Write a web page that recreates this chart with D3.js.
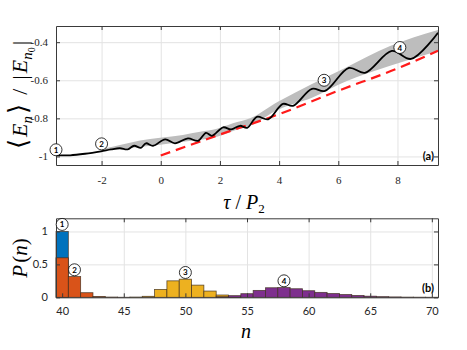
<!DOCTYPE html>
<html>
<head>
<meta charset="utf-8">
<script src="https://d3js.org/d3.v7.min.js"></script>
<style>
  body { margin: 0; background: #fff; }
  svg { display: block; }
  .grid line { stroke: #e3e3e3; stroke-width: 1; }
  .grid path { display: none; }
  .ax path, .ax line { stroke: #3a3a3a; }
  .ax text { fill: #262626; }
</style>
</head>
<body>
<script>
// panel (a): mean energy vs tau
var lineTau = [-3.54, -3.06, -2.56, -2.02, -1.68, -1.38, -1.12, -0.90, -0.67, -0.50, -0.26, 0.15, 0.48, 0.92, 1.26, 1.53, 1.73, 2.11, 2.38, 2.68, 2.92, 3.25, 3.63, 4.13, 4.47, 5.11, 5.55, 6.36, 6.90, 7.81, 8.46, 9.37];
var lineE   = [-0.994, -0.994, -0.986, -0.973, -0.963, -0.957, -0.963, -0.944, -0.955, -0.931, -0.944, -0.910, -0.931, -0.905, -0.918, -0.876, -0.892, -0.847, -0.858, -0.839, -0.850, -0.792, -0.805, -0.724, -0.734, -0.645, -0.656, -0.535, -0.561, -0.446, -0.488, -0.350];

var bandTau   = [-1.88, -1.38, -0.70, -0.02, 0.75, 1.33, 1.90, 2.44, 3.02, 3.96, 5.11, 6.23, 7.75, 9.37];
var bandUpper = [-0.957, -0.940, -0.916, -0.902, -0.887, -0.871, -0.855, -0.826, -0.800, -0.713, -0.619, -0.535, -0.420, -0.336];
var bandLower = [-0.965, -0.960, -0.950, -0.939, -0.923, -0.913, -0.897, -0.866, -0.839, -0.755, -0.692, -0.608, -0.524, -0.446];

var redTau = [0, 2, 4, 6, 8, 9.37];
var redE   = [-0.995, -0.885, -0.778, -0.655, -0.538, -0.445];

var markTau = [-3.54, -2.0, 5.52, 8.08];
var markE   = [-0.965, -0.934, -0.60, -0.428];
var markText = ["1", "2", "3", "4"];

var tauTicks = [-2, 0, 2, 4, 6, 8];
var eTicks = [-1, -0.8, -0.6, -0.4];

// panel (b): distributions P(n)
var blueN = [40];
var blueP = [1.0];
var orangeN = [40, 41, 42, 43, 44, 45];
var orangeP = [0.6, 0.315, 0.07, 0.012, 0.004, 0.001];
var yellowN = [46, 47, 48, 49, 50, 51, 52, 53, 54];
var yellowP = [0.004, 0.015, 0.12, 0.25, 0.275, 0.185, 0.095, 0.035, 0.008];
var purpleN = [53, 54, 55, 56, 57, 58, 59, 60, 61, 62, 63, 64, 65, 66, 67, 68, 69, 70];
var purpleP = [0.008, 0.025, 0.055, 0.105, 0.145, 0.148, 0.13, 0.1, 0.075, 0.057, 0.042, 0.028, 0.017, 0.01, 0.006, 0.003, 0.002, 0.001];

var histMarkN = [40, 41, 50, 58];
var histMarkP = [1.107, 0.418, 0.377, 0.25];

var nTicks = [40, 45, 50, 55, 60, 65, 70];
var pTicks = [0, 0.5, 1];

var w = 467, h = 350;
var left = 56, right = 438;
var topA = 26, botA = 165;
var topB = 218.3, botB = 297.3;

var svg = d3.select("body").append("svg").attr("width", w).attr("height", h);

var serif = "'Liberation Serif', 'DejaVu Serif', serif";
var sans = "Lato, 'DejaVu Sans', sans-serif";

// ---------- panel a ----------
var x = d3.scaleLinear().domain([-3.54, 9.37]).range([left, right]);
var y = d3.scaleLinear().domain([-1.045, -0.315]).range([botA, topA]);

svg.append("g").attr("class", "grid")
   .attr("transform", "translate(0," + botA + ")")
   .call(d3.axisBottom(x).tickValues(tauTicks).tickSize(-(botA - topA)).tickFormat(""));
svg.append("g").attr("class", "grid")
   .attr("transform", "translate(" + left + ",0)")
   .call(d3.axisLeft(y).tickValues(eTicks).tickSize(-(right - left)).tickFormat(""));

var band = d3.range(bandTau.length);
svg.append("path")
   .datum(band)
   .attr("fill", "#bdbdbd")
   .attr("d", d3.area()
      .x(function (i) { return x(bandTau[i]); })
      .y0(function (i) { return y(bandLower[i]); })
      .y1(function (i) { return y(bandUpper[i]); })
      .curve(d3.curveMonotoneX));

svg.append("path")
   .datum(d3.range(redTau.length))
   .attr("fill", "none")
   .attr("stroke", "#ff1a1a")
   .attr("stroke-width", 2.2)
   .attr("stroke-dasharray", "10,6")
   .attr("d", d3.line()
      .x(function (i) { return x(redTau[i]); })
      .y(function (i) { return y(redE[i]); })
      .curve(d3.curveMonotoneX));

svg.append("path")
   .datum(d3.range(lineTau.length))
   .attr("fill", "none")
   .attr("stroke", "#000")
   .attr("stroke-width", 1.8)
   .attr("stroke-linejoin", "round")
   .attr("d", d3.line()
      .x(function (i) { return x(lineTau[i]); })
      .y(function (i) { return y(lineE[i]); })
      .curve(d3.curveCatmullRom.alpha(0.5)));

// axes with inward ticks, box on
var axA = svg.append("g").attr("class", "ax");
axA.append("g")
   .attr("transform", "translate(0," + botA + ")")
   .call(d3.axisBottom(x).tickValues(tauTicks).tickSizeInner(-4).tickSizeOuter(0).tickPadding(11)
         .tickFormat(function (d) { return String(d); }))
   .selectAll("text").style("font-family", serif).style("font-size", "11px");
axA.append("g")
   .attr("transform", "translate(0," + topA + ")")
   .call(d3.axisTop(x).tickValues(tauTicks).tickSizeInner(-4).tickSizeOuter(0).tickFormat(""));
axA.append("g")
   .attr("transform", "translate(" + left + ",0)")
   .call(d3.axisLeft(y).tickValues(eTicks).tickSizeInner(-4).tickSizeOuter(0).tickPadding(8)
         .tickFormat(function (d) { return String(d); }))
   .selectAll("text").style("font-family", serif).style("font-size", "11px");
axA.append("g")
   .attr("transform", "translate(" + right + ",0)")
   .call(d3.axisRight(y).tickValues(eTicks).tickSizeInner(-4).tickSizeOuter(0).tickFormat(""));

function circled(g, cx, cy, label) {
  g.append("circle").attr("cx", cx).attr("cy", cy).attr("r", 6)
   .attr("fill", "#fff").attr("stroke", "#000").attr("stroke-width", 0.8);
  g.append("text").attr("x", cx).attr("y", cy + 3)
   .attr("text-anchor", "middle")
   .style("font-family", sans).style("font-size", "8px").style("font-weight", "bold")
   .text(label);
}

var mA = svg.append("g");
markTau.forEach(function (t, i) { circled(mA, x(t), y(markE[i]), markText[i]); });

svg.append("text").attr("x", 434).attr("y", 160).attr("text-anchor", "end")
   .style("font-family", sans).style("font-size", "11px").style("font-weight", "bold")
   .text("(a)");

// y label panel a (LaTeX-like spacing)
var yl = svg.append("text")
   .attr("transform", "translate(27,95) rotate(-90)")
   .attr("text-anchor", "middle")
   .style("font-family", serif).style("font-size", "22px");
yl.append("tspan").style("font-size", "26px").text("\u27E8");
yl.append("tspan").attr("dx", 2).style("font-style", "italic").text("E");
yl.append("tspan").style("font-style", "italic").style("font-size", "15px").attr("dy", 5).text("n");
yl.append("tspan").attr("dx", 2).attr("dy", -5).style("font-size", "26px").text("\u27E9");
yl.append("tspan").attr("dx", 9).text("/");
yl.append("tspan").attr("dx", 9).text("|");
yl.append("tspan").attr("dx", 2).style("font-style", "italic").text("E");
yl.append("tspan").style("font-style", "italic").style("font-size", "15px").attr("dy", 5).text("n");
yl.append("tspan").style("font-size", "10px").attr("dy", 3).text("0");
yl.append("tspan").attr("dx", 2).attr("dy", -8).text("|");

var xl = svg.append("text")
   .attr("x", 244).attr("y", 209).attr("text-anchor", "middle")
   .style("font-family", serif).style("font-size", "20px");
xl.append("tspan").style("font-style", "italic").text("\u03C4");
xl.append("tspan").text(" / ");
xl.append("tspan").style("font-style", "italic").text("P");
xl.append("tspan").style("font-size", "13px").attr("dy", 4).text("2");

// ---------- panel b ----------
var xb = d3.scaleLinear().domain([39.5, 70.5]).range([left, right]);
var yb = d3.scaleLinear().domain([0, 1.2]).range([botB, topB]);

svg.append("g").attr("class", "grid")
   .attr("transform", "translate(0," + botB + ")")
   .call(d3.axisBottom(xb).tickValues(nTicks).tickSize(-(botB - topB)).tickFormat(""));
svg.append("g").attr("class", "grid")
   .attr("transform", "translate(" + left + ",0)")
   .call(d3.axisLeft(yb).tickValues(pTicks).tickSize(-(right - left)).tickFormat(""));

function bars(ns, ps, color) {
  svg.append("g").selectAll("rect")
     .data(d3.range(ns.length))
     .enter().append("rect")
     .attr("x", function (i) { return xb(ns[i] - 0.5); })
     .attr("width", function (i) { return xb(ns[i] + 0.5) - xb(ns[i] - 0.5); })
     .attr("y", function (i) { return yb(ps[i]); })
     .attr("height", function (i) { return yb(0) - yb(ps[i]); })
     .attr("fill", color)
     .attr("stroke", "#3b2a1a")
     .attr("stroke-opacity", 0.8)
     .attr("stroke-width", 0.8);
}
bars(blueN, blueP, "#0072BD");
bars(orangeN, orangeP, "#D95319");
bars(yellowN, yellowP, "#EDB120");
bars(purpleN, purpleP, "#7E2F8E");

var axB = svg.append("g").attr("class", "ax");
axB.append("g")
   .attr("transform", "translate(0," + botB + ")")
   .call(d3.axisBottom(xb).tickValues(nTicks).tickSizeInner(-4).tickSizeOuter(0).tickPadding(10))
   .selectAll("text").style("font-family", sans).style("font-size", "11px");
axB.append("g")
   .attr("transform", "translate(0," + topB + ")")
   .call(d3.axisTop(xb).tickValues(nTicks).tickSizeInner(-4).tickSizeOuter(0).tickFormat(""));
axB.append("g")
   .attr("transform", "translate(" + left + ",0)")
   .call(d3.axisLeft(yb).tickValues(pTicks).tickSizeInner(-4).tickSizeOuter(0).tickPadding(8)
         .tickFormat(function (d) { return String(d); }))
   .selectAll("text").style("font-family", sans).style("font-size", "11px");
axB.append("g")
   .attr("transform", "translate(" + right + ",0)")
   .call(d3.axisRight(yb).tickValues(pTicks).tickSizeInner(-4).tickSizeOuter(0).tickFormat(""));

var mB = svg.append("g");
histMarkN.forEach(function (n, i) { circled(mB, xb(n), yb(histMarkP[i]), markText[i]); });

svg.append("text").attr("x", 434).attr("y", 292).attr("text-anchor", "end")
   .style("font-family", sans).style("font-size", "11px").style("font-weight", "bold")
   .text("(b)");

var pl = svg.append("text")
   .attr("transform", "translate(27,258) rotate(-90)")
   .attr("text-anchor", "middle")
   .style("font-family", serif).style("font-size", "21px");
pl.append("tspan").style("font-style", "italic").text("P");
pl.append("tspan").attr("dx", 2).text("(");
pl.append("tspan").style("font-style", "italic").text("n");
pl.append("tspan").text(")");

svg.append("text").attr("x", 246).attr("y", 338).attr("text-anchor", "middle")
   .style("font-family", serif).style("font-size", "20px").style("font-style", "italic")
   .text("n");
</script>
</body>
</html>
